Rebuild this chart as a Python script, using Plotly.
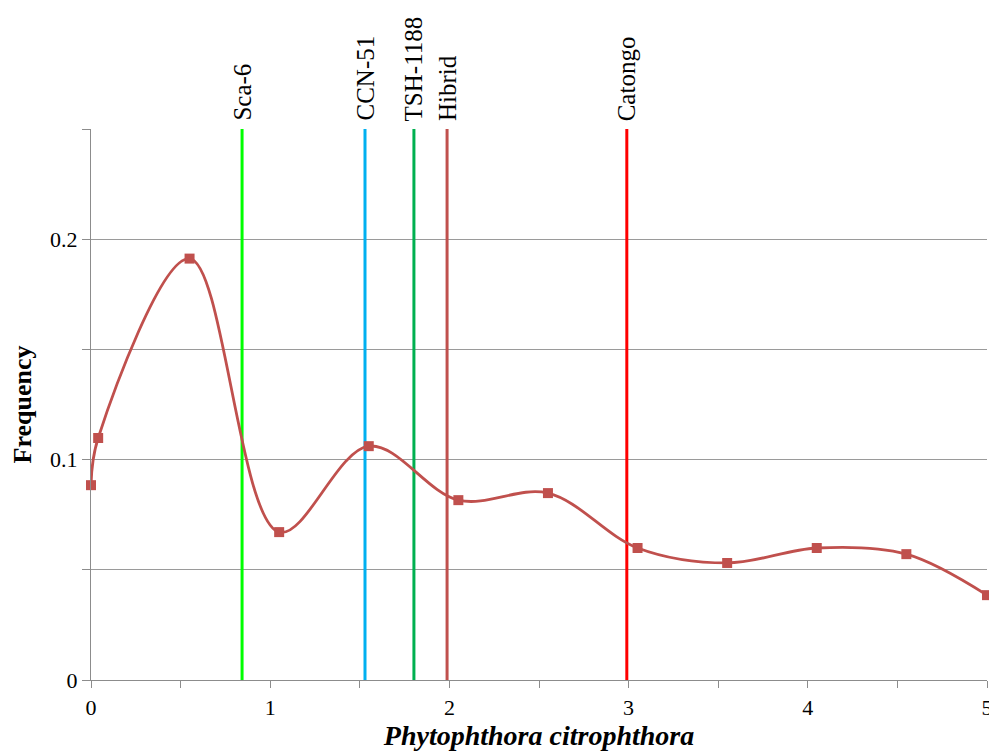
import plotly.graph_objects as go

# Data series
x_vals = [0.0, 0.04, 0.55, 1.05, 1.55, 2.05, 2.55, 3.05, 3.55, 4.05, 4.55, 5.0]
freq = [0.0884, 0.1098, 0.1912, 0.0671, 0.1061, 0.0816, 0.0848, 0.0599, 0.0531, 0.0599, 0.0571, 0.0385]

# Cultivar reference lines
cult_names = ["Sca-6", "CCN-51", "TSH-1188", "Hibrid", "Catongo"]
cult_x = [0.843, 1.529, 1.802, 1.987, 2.99]
cult_colors = ["#00FF00", "#00B0F0", "#00B050", "#C0504D", "#FF0000"]

y_ticks = [0, 0.05, 0.1, 0.15, 0.2, 0.25]
y_tick_text = ["0", "", "0.1", "", "0.2", ""]
x_ticks = [0, 0.5, 1, 1.5, 2, 2.5, 3, 3.5, 4, 4.5, 5]
x_tick_text = ["0", "", "1", "", "2", "", "3", "", "4", "", "5"]

fig = go.Figure()

for name, xv, col in zip(cult_names, cult_x, cult_colors):
    fig.add_trace(go.Scatter(x=[xv, xv], y=[0, 0.25], mode="lines",
                             line=dict(color=col, width=3), showlegend=False,
                             hoverinfo="skip"))
    fig.add_annotation(x=xv, y=0.25, xref="x", yref="y", text=name,
                       textangle=-90, showarrow=False, yanchor="bottom",
                       xanchor="center", yshift=6,
                       font=dict(family="Liberation Serif", size=25, color="black"))

fig.add_trace(go.Scatter(x=x_vals, y=freq, mode="lines+markers",
                         line=dict(color="#C0504D", width=2.8, shape="spline", smoothing=1),
                         marker=dict(symbol="square", size=10, color="#C0504D"),
                         showlegend=False, cliponaxis=False))

fig.update_layout(
    width=989, height=753,
    paper_bgcolor="white", plot_bgcolor="white",
    margin=dict(l=91, r=2, t=129, b=73),
    font=dict(family="Liberation Serif", size=22, color="black"),
    xaxis=dict(range=[0, 5], tickvals=x_ticks, ticktext=x_tick_text,
               showgrid=False, zeroline=False, showline=True, linecolor="#8c8c8c",
               linewidth=1.2, ticks="outside", ticklen=7, tickcolor="#8c8c8c",
               tickfont=dict(size=22), automargin=False, ticklabeloverflow="allow",
               title=dict(text="<b><i>Phytophthora citrophthora</i></b>",
                          font=dict(size=28), standoff=6)),
    yaxis=dict(range=[0, 0.25], tickvals=y_ticks, ticktext=y_tick_text,
               showgrid=True, gridcolor="#9a9a9a", gridwidth=1, zeroline=False,
               showline=True, linecolor="#8c8c8c", linewidth=1.2,
               ticks="outside", ticklen=8, tickcolor="#8c8c8c",
               tickfont=dict(size=22), automargin=False,
               title=dict(text="<b>Frequency</b>", font=dict(size=26), standoff=10)),
)

fig.write_html("out.html", config={"displayModeBar": False},
               post_script="document.body.style.margin='0';document.body.style.overflow='hidden';")
